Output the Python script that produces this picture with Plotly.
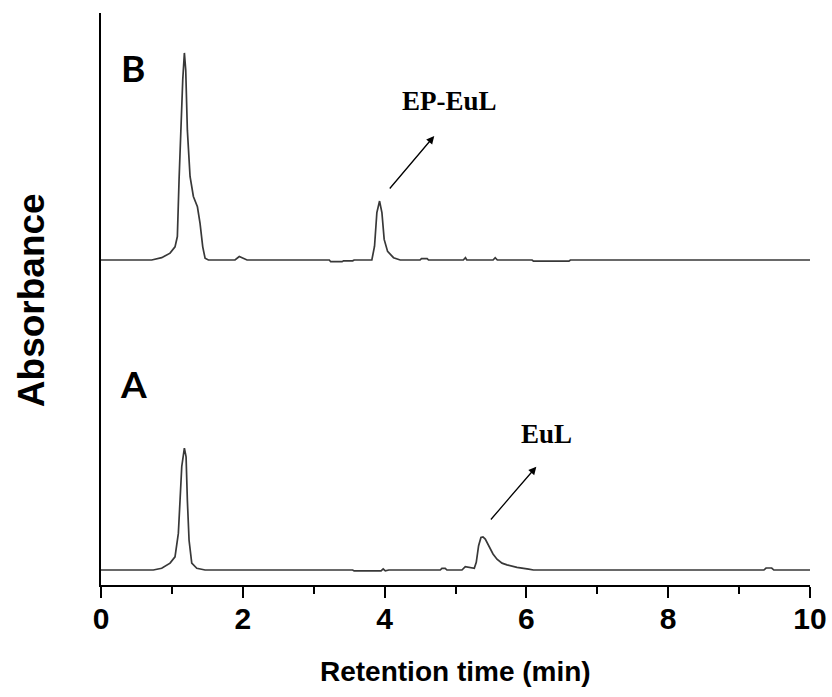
import plotly.graph_objects as go

# ---- data (retention time in min, absorbance in arbitrary units above each trace baseline) ----
time_b = [0.00, 0.715, 0.856, 0.974, 1.044, 1.077, 1.101, 1.124, 1.153, 1.176, 1.195, 1.218,
          1.256, 1.303, 1.360, 1.397, 1.435, 1.468, 1.515, 1.89, 1.95, 2.06, 3.22, 3.24, 3.40,
          3.42, 3.55, 3.57, 3.820, 3.858, 3.891, 3.929, 3.962, 3.994, 4.042, 4.126, 4.220,
          4.50, 4.52, 4.60, 4.62, 5.11, 5.14, 5.16, 5.53, 5.56, 5.59, 6.08, 6.10, 6.60, 6.62, 10.00]
signal_b = [0.0, 0.0, 0.4, 1.2, 2.3, 4.1, 14.0, 22.7, 31.5, 36.2, 33.2, 22.7,
            14.6, 11.1, 9.3, 6.4, 2.3, 0.3, 0.0, 0.0, 0.6, 0.0, 0.0, -0.3, -0.3,
            -0.15, -0.15, 0.0, 0.0, 2.4, 8.3, 10.3, 8.3, 3.6, 1.5, 0.4, 0.0,
            0.0, 0.25, 0.25, 0.0, 0.0, 0.4, 0.0, 0.0, 0.4, 0.0, 0.0, -0.2, -0.2, 0.0, 0.0]

time_a = [0.00, 0.738, 0.856, 0.974, 1.044, 1.091, 1.115, 1.139, 1.176, 1.200, 1.218, 1.242,
          1.280, 1.351, 1.468, 3.55, 3.57, 3.95, 3.98, 4.01, 4.06, 4.785, 4.808, 4.855, 4.879,
          5.091, 5.138, 5.208, 5.265, 5.293, 5.326, 5.359, 5.387, 5.420, 5.467, 5.529, 5.585,
          5.656, 5.726, 5.867, 6.031, 6.10, 9.35, 9.38, 9.46, 9.49, 10.00]
signal_a = [0.0, 0.0, 0.3, 1.2, 2.3, 6.4, 12.2, 18.1, 21.3, 19.8, 12.2, 5.2,
            1.2, 0.3, 0.0, 0.0, -0.15, -0.15, 0.2, -0.15, 0.0, 0.0, 0.3, 0.3, 0.0,
            0.0, 0.6, 0.5, 0.3, 1.35, 4.25, 5.7, 5.8, 5.4, 4.25, 2.8, 1.9,
            1.2, 0.9, 0.45, 0.15, 0.0, 0.0, 0.35, 0.35, 0.0, 0.0]

offset_a = 2.62
offset_b = 56.82

x_ticks = [0, 2, 4, 6, 8, 10]
x_tick_labels = ["0", "2", "4", "6", "8", "10"]

line_color = "#383838"

fig = go.Figure()
fig.add_trace(go.Scatter(x=time_a, y=[v + offset_a for v in signal_a], mode="lines",
                         line=dict(color=line_color, width=1.7), showlegend=False))
fig.add_trace(go.Scatter(x=time_b, y=[v + offset_b for v in signal_b], mode="lines",
                         line=dict(color=line_color, width=1.7), showlegend=False))

sans = "Liberation Sans, Arial, sans-serif"
serif = "Liberation Serif, Times New Roman, serif"
label_font = "Lato, Noto Sans, sans-serif"

annotations = [
    dict(x=0.445, y=90.5, text="B", showarrow=False, xanchor="center", yanchor="middle",
         font=dict(family=label_font, size=37, color="black", weight="bold")),
    dict(x=0.452, y=35.2, text="A", showarrow=False, xanchor="center", yanchor="middle",
         font=dict(family=label_font, size=37, color="black", weight="bold")),
    dict(x=4.912, y=84.6, text="EP-EuL", showarrow=False, xanchor="center", yanchor="middle",
         font=dict(family=serif, size=27, color="black", weight="bold")),
    dict(x=6.281, y=26.4, text="EuL", showarrow=False, xanchor="center", yanchor="middle",
         font=dict(family=serif, size=27, color="black", weight="bold")),
    dict(x=4.700, y=78.5, ax=4.055, ay=69.06, axref="x", ayref="y", xref="x", yref="y",
         text="", showarrow=True, arrowhead=2, arrowsize=1.2, arrowwidth=1.3, arrowcolor="black"),
    dict(x=6.140, y=20.68, ax=5.481, ay=11.19, axref="x", ayref="y", xref="x", yref="y",
         text="", showarrow=True, arrowhead=2, arrowsize=1.2, arrowwidth=1.3, arrowcolor="black"),
    dict(x=0.4993, y=-0.152, xref="paper", yref="paper", text="Retention time (min)",
         showarrow=False, xanchor="center", yanchor="middle",
         font=dict(family=sans, size=28, color="black", weight="bold")),
    dict(x=-0.0987, y=0.498, xref="paper", yref="paper", text="Absorbance", textangle=-90,
         showarrow=False, xanchor="center", yanchor="middle",
         font=dict(family=sans, size=37, color="black", weight="bold")),
]

fig.update_layout(
    width=832, height=697,
    margin=dict(l=101, r=22, t=13, b=112, autoexpand=False),
    paper_bgcolor="white", plot_bgcolor="white",
    annotations=annotations,
    xaxis=dict(range=[0, 10], showgrid=False, zeroline=False, showline=True, automargin=False,
               linecolor="black", linewidth=2, ticks="outside", ticklen=11, tickwidth=2,
               tickcolor="black", tickvals=x_ticks, ticktext=x_tick_labels,
               ticklabelstandoff=-5,
               tickfont=dict(family=sans, size=30, color="black", weight="bold"),
               minor=dict(dtick=1, tick0=0, ticks="outside", ticklen=7, tickwidth=2,
                          tickcolor="black", showgrid=False)),
    yaxis=dict(range=[0, 100], showgrid=False, zeroline=False, showline=True, automargin=False,
               linecolor="black", linewidth=2, ticks="", showticklabels=False),
)

# remove the default 8px page margin so the 832x697 figure fills the window exactly
page_fix = ("document.documentElement.style.overflow='hidden';"
            "document.body.style.margin='0';document.body.style.overflow='hidden';")
fig.write_html("out.html", post_script=page_fix, config={"displayModeBar": False})
